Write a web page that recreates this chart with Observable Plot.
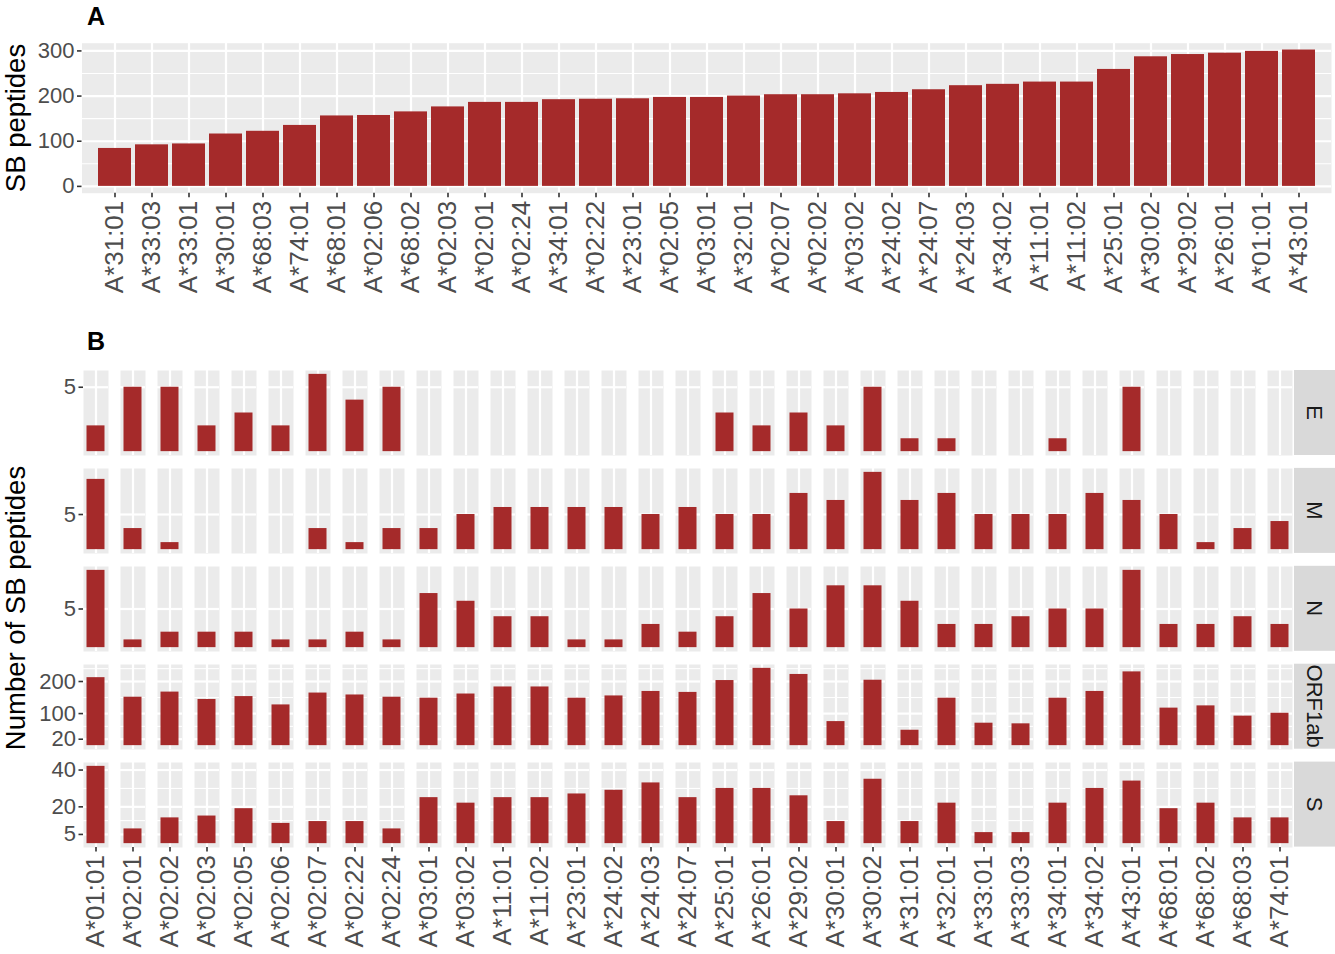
<!DOCTYPE html>
<html><head><meta charset="utf-8">
<script src="https://cdn.jsdelivr.net/npm/d3@7"></script>
<script src="https://cdn.jsdelivr.net/npm/@observablehq/plot@0.6"></script>
<style>
body{margin:0;background:#fff;}
#root{position:relative;width:1335px;height:954px;overflow:hidden;font-family:"Liberation Sans",Arial,Helvetica,sans-serif;}
.layer{position:absolute;left:0;}
</style></head><body><div id="root"></div>
<script>
// ---------- Panel A data ----------
const allelesA = ["A*31:01","A*33:03","A*33:01","A*30:01","A*68:03","A*74:01","A*68:01","A*02:06","A*68:02","A*02:03","A*02:01","A*02:24","A*34:01","A*02:22","A*23:01","A*02:05","A*03:01","A*32:01","A*02:07","A*02:02","A*03:02","A*24:02","A*24:07","A*24:03","A*34:02","A*11:01","A*11:02","A*25:01","A*30:02","A*29:02","A*26:01","A*01:01","A*43:01"];
const totalsA = [84,92,94,116,122,135,156,157,165,176,186,186,192,193,194,197,197,200,203,203,205,208,214,223,226,231,231,259,287,292,295,299,302];
const breaksA = [0,100,200,300];

// ---------- Panel B data ----------
const allelesB = ["A*01:01","A*02:01","A*02:02","A*02:03","A*02:05","A*02:06","A*02:07","A*02:22","A*02:24","A*03:01","A*03:02","A*11:01","A*11:02","A*23:01","A*24:02","A*24:03","A*24:07","A*25:01","A*26:01","A*29:02","A*30:01","A*30:02","A*31:01","A*32:01","A*33:01","A*33:03","A*34:01","A*34:02","A*43:01","A*68:01","A*68:02","A*68:03","A*74:01"];
const proteins = ["E","M","N","ORF1ab","S"];
const valsE = [2,5,5,2,3,2,6,4,5,0,0,0,0,0,0,0,0,3,2,3,2,5,1,1,0,0,1,0,5,0,0,0,0];
const valsM = [10,3,1,0,0,0,3,1,3,3,5,6,6,6,6,5,6,5,5,8,7,11,7,8,5,5,5,8,7,5,1,3,4];
const valsN = [10,1,2,2,2,1,1,2,1,7,6,4,4,1,1,3,2,4,7,5,8,8,6,3,3,4,5,5,10,3,3,4,3];
const valsORF1ab = [212,151,167,144,153,127,164,158,151,148,161,183,183,148,155,169,166,203,241,222,75,204,48,148,70,68,148,169,230,117,124,92,101];
const valsS = [42,8,14,15,19,11,12,12,8,25,22,25,25,27,29,33,25,30,30,26,12,35,12,22,6,6,22,30,34,19,22,14,14];
const breaksE = [5];
const breaksM = [5];
const breaksN = [5];
const breaksORF1ab = [20,100,200];
const breaksS = [5,20,40];

const FILL = "#A52A2A", PANEL = "#EBEBEB", TXT = "#4D4D4D", TICK = "#333333";
const FONT = '"Liberation Sans", Arial, Helvetica, sans-serif';
const root = document.getElementById("root");

function place(node, top) {
  const d = document.createElement("div");
  d.className = "layer"; d.style.top = top + "px";
  d.appendChild(node); root.appendChild(d);
}
function minorBreaks(b, lim) {
  b = b.filter(v => v >= lim[0] && v <= lim[1]);
  if (b.length < 2) return [];
  const bd = b[1] - b[0];
  if (lim[0] < b[0]) b = [b[0] - bd, ...b];
  if (lim[1] > b[b.length - 1]) b = [...b, b[b.length - 1] + bd];
  const out = [];
  for (let i = 0; i < b.length - 1; i++) out.push((b[i] + b[i + 1]) / 2);
  return out.filter(v => v >= lim[0] && v <= lim[1]);
}

// ---------- Panel A ----------
{
  const data = allelesA.map((a, i) => ({allele: a, total: totalsA[i]}));
  const mx = d3.max(totalsA), dom = [-0.05 * mx, 1.05 * mx];
  const top = 42.7, bottom = 192.7, H = 310;
  const p = Plot.plot({
    width: 1335, height: H,
    marginLeft: 81.5, marginRight: 4, marginTop: top, marginBottom: H - bottom,
    style: {fontFamily: FONT, background: "transparent", overflow: "visible"},
    x: {domain: allelesA, paddingInner: 0.1, paddingOuter: 0.15, axis: null, label: null},
    y: {domain: dom, axis: null, label: null},
    marks: [
      Plot.frame({fill: PANEL, stroke: "none"}),
      Plot.gridY(minorBreaks(breaksA, dom), {stroke: "white", strokeOpacity: 1, strokeWidth: 1.1}),
      Plot.gridY(breaksA, {stroke: "white", strokeOpacity: 1, strokeWidth: 2.2}),
      Plot.gridX({stroke: "white", strokeOpacity: 1, strokeWidth: 2.2}),
      Plot.barY(data, {x: "allele", y: "total", fill: FILL}),
      Plot.axisY(breaksA, {anchor: "left", label: null, tickSize: 4.5, tickPadding: 3, fontSize: 22, stroke: TICK, strokeWidth: 1.6, fill: TXT}),
      Plot.axisX({anchor: "bottom", label: null, tickRotate: -90, tickSize: 4.5, tickPadding: 3, fontSize: 26, stroke: TICK, strokeWidth: 1.6, fill: TXT})
    ]
  });
  place(p, 0);
}

// ---------- Panel B rows ----------
const rowVals = {E: valsE, M: valsM, N: valsN, ORF1ab: valsORF1ab, S: valsS};
const rowBreaks = {E: breaksE, M: breaksM, N: breaksN, ORF1ab: breaksORF1ab, S: breaksS};
const rowTop0 = 370, rowH = 85, rowStep = 97.9;
proteins.forEach((prot, r) => {
  const vals = rowVals[prot];
  const data = allelesB.map((a, i) => ({allele: a, k: "k", v: vals[i]}));
  const mx = d3.max(vals), dom = [-0.05 * mx, 1.05 * mx];
  const majors = rowBreaks[prot];
  const minors = minorBreaks(majors, dom);
  const showX = prot === "S";
  const mb = showX ? 110 : 0;
  const top = rowTop0 + r * rowStep;
  const marks = [
    Plot.frame({fill: PANEL, stroke: "none"}),
    Plot.gridY(minors, {stroke: "white", strokeOpacity: 1, strokeWidth: 1.1}),
    Plot.gridY(majors, {stroke: "white", strokeOpacity: 1, strokeWidth: 2.2}),
    Plot.gridX({stroke: "white", strokeOpacity: 1, strokeWidth: 2.2}),
    Plot.barY(data, {fx: "allele", x: "k", y: "v", fill: FILL}),
    Plot.axisY(majors, {anchor: "left", label: null, tickSize: 4.5, tickPadding: 3, fontSize: 22, stroke: TICK, strokeWidth: 1.6, fill: TXT})
  ];
  if (showX) marks.push(Plot.axisFx({anchor: "bottom", label: null, tickRotate: -90, tickSize: 4.5, tickPadding: 3, fontSize: 26, stroke: TICK, strokeWidth: 1.6, fill: TXT}));
  const p = Plot.plot({
    width: 1335, height: rowH + mb,
    marginLeft: 80.5, marginRight: 1335 - 1293.5, marginTop: 0, marginBottom: mb,
    style: {fontFamily: FONT, background: "transparent", overflow: "visible"},
    fx: {domain: allelesB, paddingInner: 0.328, paddingOuter: 0, axis: null, label: null},
    x: {domain: ["k"], paddingInner: 0.1, paddingOuter: 0.15, axis: null, label: null},
    y: {domain: dom, axis: null, label: null},
    marks
  });
  place(p, top);
});

// ---------- Text overlay: tags, axis titles, strips ----------
{
  const ns = "http://www.w3.org/2000/svg";
  const svg = document.createElementNS(ns, "svg");
  svg.setAttribute("width", 1335); svg.setAttribute("height", 954);
  svg.style.position = "absolute"; svg.style.left = "0"; svg.style.top = "0";
  svg.style.fontFamily = FONT;
  const add = (tag, attrs, text) => {
    const e = document.createElementNS(ns, tag);
    for (const k in attrs) e.setAttribute(k, attrs[k]);
    if (text != null) e.textContent = text;
    svg.appendChild(e); return e;
  };
  add("text", {x: 87, y: 25, "font-size": 25, "font-weight": "bold", fill: "#000"}, "A");
  add("text", {x: 87, y: 350, "font-size": 25, "font-weight": "bold", fill: "#000"}, "B");
  add("text", {transform: "translate(25,118) rotate(-90)", "text-anchor": "middle", "font-size": 27.5, fill: "#000"}, "SB peptides");
  add("text", {transform: "translate(25,608) rotate(-90)", "text-anchor": "middle", "font-size": 27.5, fill: "#000"}, "Number of SB peptides");
  proteins.forEach((prot, r) => {
    const top = rowTop0 + r * rowStep;
    add("rect", {x: 1294, y: top, width: 41, height: rowH, fill: "#D9D9D9"});
    add("text", {transform: `translate(${1314.5},${top + rowH / 2}) rotate(90)`, "text-anchor": "middle", "dominant-baseline": "central", "font-size": 22, fill: "#1A1A1A"}, prot);
  });
  root.appendChild(svg);
}
</script></body></html>
